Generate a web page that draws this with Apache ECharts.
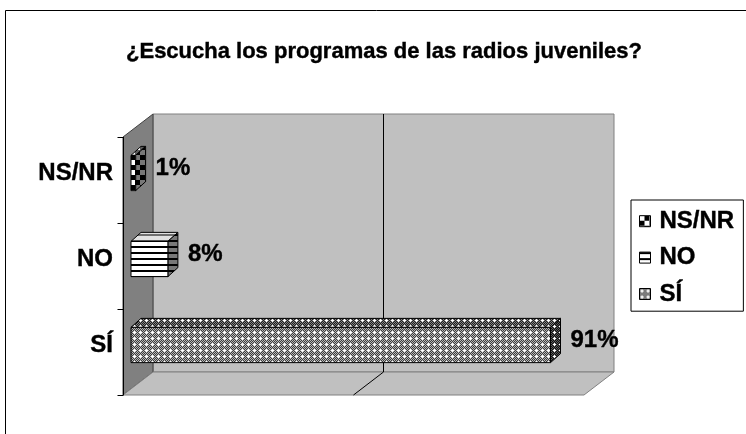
<!DOCTYPE html>
<html>
<head>
<meta charset="utf-8">
<script src="https://cdn.jsdelivr.net/npm/echarts@6/dist/echarts.min.js"></script>
<style>
  html, body { margin: 0; padding: 0; background: #fff; }
  #chart { width: 746px; height: 434px; }
</style>
</head>
<body>
<div id="chart"></div>
<script>
// datos
var categories = ["NS/NR", "NO", "SÍ"];
var values = [1, 8, 91];
var valueTicks = [0, 50, 100];

var FONT = "Liberation Sans, Arial, sans-serif";
// desplazamiento 3D respecto al plano de las barras
var front = { x: -8, y: 7 };
var back = { x: 22, y: -16 };
var barDepth = { x: 10, y: -9 };

function makePattern(w, h, fn) {
  var c = document.createElement("canvas");
  c.width = w;
  c.height = h;
  var ctx = c.getContext("2d");
  var img = ctx.createImageData(w, h);
  for (var y = 0; y < h; y++) {
    for (var x = 0; x < w; x++) {
      var v = fn(x, y);
      var k = (y * w + x) * 4;
      img.data[k] = img.data[k + 1] = img.data[k + 2] = v;
      img.data[k + 3] = 255;
    }
  }
  ctx.putImageData(img, 0, 0);
  return { image: c, repeat: "repeat" };
}

function stipple(dark, light) {
  return makePattern(6, 6, function (x, y) {
    if ((x === 2 && y === 2) || (x === 1 && y === 2) || (x === 3 && y === 2) ||
        (x === 2 && y === 1) || (x === 2 && y === 3)) return 255;
    return (x + y) % 2 ? dark : light;
  });
}
function stripes(dark, light) {
  return makePattern(6, 6, function (x, y) {
    return y % 6 < 2 ? dark : light;
  });
}
function checker(dark, light) {
  return makePattern(10, 10, function (x, y) {
    return (Math.floor(x / 5) + Math.floor(y / 5)) % 2 ? dark : light;
  });
}

// caras: frente, arriba, lado
var patterns = {
  "NS/NR": [checker(0, 255), checker(90, 255), checker(0, 120)],
  "NO": [stripes(0, 255), stripes(110, 225), stripes(0, 120)],
  "SÍ": [stipple(60, 185), stipple(30, 130), stipple(15, 90)]
};

var chart = echarts.init(document.getElementById("chart"));

function renderWalls(params, api) {
  var g = params.coordSys;
  var L = g.x, R = g.x + g.width, T = g.y, B = g.y + g.height;
  var children = [];
  // pared de fondo
  children.push({
    type: "polygon",
    shape: { points: [[L + back.x, T + back.y], [R + back.x, T + back.y], [R + back.x, B + back.y], [L + back.x, B + back.y]] },
    style: { fill: "#c0c0c0", stroke: "#808080", lineWidth: 1 }
  });
  // pared lateral
  children.push({
    type: "polygon",
    shape: { points: [[L + front.x, T + front.y], [L + back.x, T + back.y], [L + back.x, B + back.y], [L + front.x, B + front.y]] },
    style: { fill: "#808080", stroke: "#404040", lineWidth: 1 }
  });
  // piso
  children.push({
    type: "polygon",
    shape: { points: [[L + front.x, B + front.y], [L + back.x, B + back.y], [R + back.x, B + back.y], [R + front.x, B + front.y]] },
    style: { fill: "#c0c0c0", stroke: "#808080", lineWidth: 1 }
  });
  // lineas de division
  valueTicks.slice(1, -1).forEach(function (t) {
    var x = api.coord([t, 0])[0];
    children.push({
      type: "polyline",
      shape: { points: [[x + back.x, T + back.y], [x + back.x, B + back.y], [x + front.x, B + front.y]] },
      style: { stroke: "#000", lineWidth: 1, fill: null }
    });
  });
  // eje de categorias
  var ax = Math.round(L + front.x) + 0.5;
  children.push({
    type: "line",
    shape: { x1: ax, y1: T + front.y, x2: ax, y2: B + front.y },
    style: { stroke: "#000", lineWidth: 1 }
  });
  for (var i = 0; i <= categories.length; i++) {
    var ty = Math.round(T + front.y + (g.height * i) / categories.length) + 0.5;
    children.push({
      type: "line",
      shape: { x1: ax - 6, y1: ty, x2: ax, y2: ty },
      style: { stroke: "#000", lineWidth: 1 }
    });
  }
  return { type: "group", children: children };
}

function renderBar(params, api) {
  var cat = categories[api.value(1)];
  var p = patterns[cat];
  var start = api.coord([0, api.value(1)]);
  var end = api.coord([api.value(0), api.value(1)]);
  var h = api.size([0, 1])[1] * 0.41;
  var x0 = start[0], x1 = end[0];
  var y0 = start[1] - h / 2, y1 = start[1] + h / 2;
  var dx = barDepth.x, dy = barDepth.y;
  var line = { stroke: "#000", lineWidth: 1 };
  return {
    type: "group",
    children: [
      { type: "polygon", shape: { points: [[x0, y0], [x1, y0], [x1 + dx, y0 + dy], [x0 + dx, y0 + dy]] },
        style: Object.assign({ fill: p[1] }, line) },
      { type: "polygon", shape: { points: [[x1, y0], [x1 + dx, y0 + dy], [x1 + dx, y1 + dy], [x1, y1]] },
        style: Object.assign({ fill: p[2] }, line) },
      { type: "rect", shape: { x: x0, y: y0, width: x1 - x0, height: h },
        style: Object.assign({ fill: p[0] }, line) },
      { type: "text",
        style: { text: api.value(0) + "%", x: x1 + dx + 10, y: (y0 + y1) / 2 + dy / 2,
          verticalAlign: "middle", fill: "#000", font: "bold 24px " + FONT,
          stroke: "#000", lineWidth: 0.4 } }
    ]
  };
}

var series = [{
  type: "custom",
  name: "walls",
  silent: true,
  z: 1,
  data: [[0, 0]],
  renderItem: renderWalls
}];
categories.forEach(function (c, i) {
  series.push({
    type: "custom",
    name: c,
    z: 3,
    itemStyle: { color: patterns[c][0] },
    encode: { x: 0, y: 1 },
    data: [[values[i], i]],
    renderItem: renderBar
  });
});

var heavy = { textBorderColor: "#000", textBorderWidth: 0.4 };

chart.setOption({
  animation: false,
  title: {
    text: "¿Escucha los programas de las radios juveniles?",
    left: 379,
    textAlign: "center",
    top: 36,
    textStyle: Object.assign({ fontFamily: FONT, fontSize: 22, fontWeight: "bold", color: "#000" }, heavy)
  },
  graphic: [{
    type: "rect",
    shape: { x: 5.5, y: 10.5, width: 760, height: 440 },
    style: { fill: null, stroke: "#000", lineWidth: 1 },
    z: 0
  }],
  grid: { left: 131, right: 154, top: 130, bottom: 46 },
  xAxis: {
    type: "value",
    min: valueTicks[0],
    max: valueTicks[valueTicks.length - 1],
    interval: 50,
    show: false
  },
  yAxis: {
    type: "category",
    data: categories,
    inverse: true,
    axisLine: { show: false },
    axisTick: { show: false },
    splitLine: { show: false },
    axisLabel: Object.assign({
      margin: 18,
      padding: [16, 0, 0, 0],
      color: "#000",
      fontFamily: FONT,
      fontSize: 24,
      fontWeight: "bold"
    }, heavy)
  },
  legend: {
    data: categories,
    orient: "vertical",
    left: 631,
    top: 200,
    icon: "rect",
    itemWidth: 11,
    itemHeight: 11,
    itemGap: 12,
    padding: [9, 9, 5, 8],
    borderColor: "#000",
    borderWidth: 1,
    selectedMode: false,
    itemStyle: { borderColor: "#000", borderWidth: 1 },
    textStyle: Object.assign({ fontFamily: FONT, fontSize: 24, fontWeight: "bold", color: "#000", lineHeight: 24, padding: [0, 0, 0, 4] }, heavy)
  },
  series: series
});
</script>
</body>
</html>
